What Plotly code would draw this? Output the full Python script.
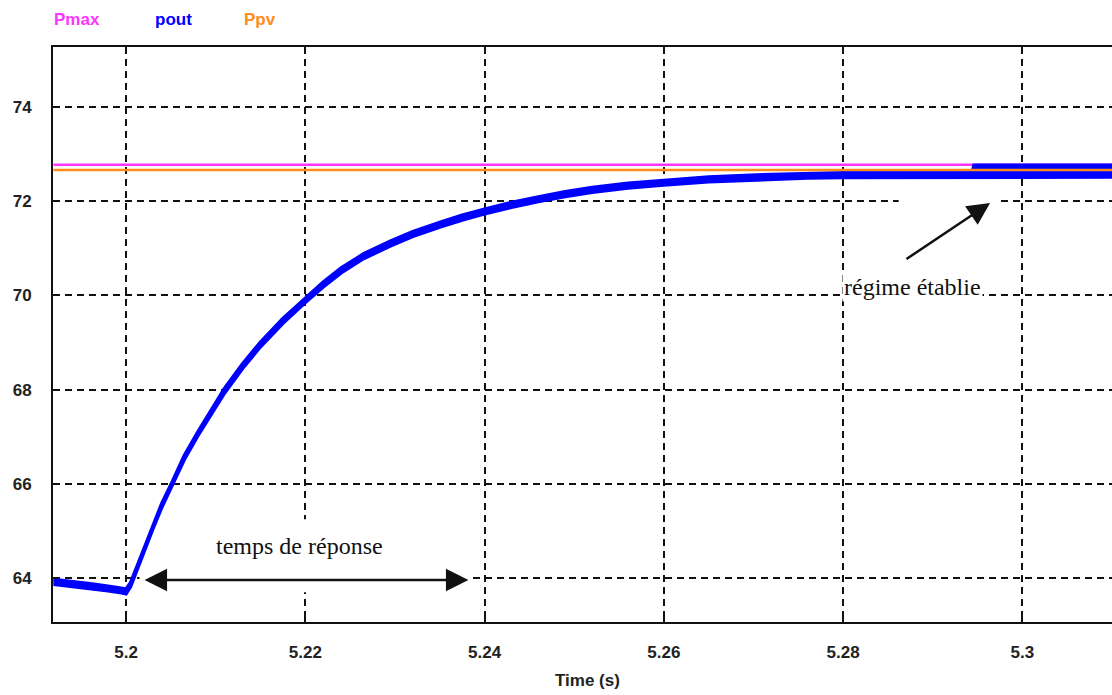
import plotly.graph_objects as go

# Time samples (s) and the pout band (lower / upper edge of the rippled trace, W)
pout_t = [5.1919, 5.1940, 5.1960, 5.1980, 5.1995, 5.2000, 5.2005, 5.2010, 5.2015,
          5.2020, 5.2025, 5.2030, 5.2040, 5.2052, 5.2065, 5.2080, 5.2095, 5.2110,
          5.2130, 5.2150, 5.2175, 5.2200, 5.2220, 5.2240, 5.2265, 5.2295, 5.2320,
          5.2350, 5.2375, 5.2400, 5.2430, 5.2460, 5.2490, 5.2520, 5.2560, 5.2600,
          5.2650, 5.2710, 5.2760, 5.2800, 5.2944, 5.2946, 5.3000, 5.3101]
pout_lo = [63.87, 63.83, 63.78, 63.73, 63.69, 63.67, 63.82, 64.06, 64.32,
           64.56, 64.81, 65.05, 65.51, 65.98, 66.52, 67.02, 67.49, 67.93,
           68.45, 68.91, 69.41, 69.85, 70.18, 70.48, 70.78, 71.05, 71.25,
           71.45, 71.60, 71.73, 71.87, 71.99, 72.10, 72.19, 72.28, 72.34,
           72.41, 72.46, 72.49, 72.50, 72.51, 72.51, 72.51, 72.51]
pout_hi = [63.97, 63.93, 63.88, 63.83, 63.79, 63.77, 63.90, 64.14, 64.40,
           64.64, 64.89, 65.13, 65.59, 66.06, 66.60, 67.10, 67.57, 68.03,
           68.55, 69.01, 69.51, 69.95, 70.28, 70.58, 70.88, 71.15, 71.35,
           71.55, 71.70, 71.83, 71.97, 72.09, 72.20, 72.29, 72.38, 72.44,
           72.51, 72.56, 72.59, 72.60, 72.61, 72.76, 72.76, 72.76]

# Reference power levels (W)
t_span = [5.1919, 5.3101]
pmax_vals = [72.77, 72.77]
ppv_vals = [72.66, 72.66]

x_ticks = [5.20, 5.22, 5.24, 5.26, 5.28, 5.30]
y_ticks = [64, 66, 68, 70, 72, 74]

MAGENTA = "#FF33FF"
BLUE = "#0000FF"
ORANGE = "#FF8C1A"
SANS = "Liberation Sans Narrow, Arial Narrow, Liberation Sans, sans-serif"
TICK_FONT = dict(family=SANS, size=17, color="#222222", weight="bold")
SERIF = "Liberation Serif, Times New Roman, serif"

fig = go.Figure()

fig.add_trace(go.Scatter(x=t_span, y=pmax_vals, mode="lines",
                         line=dict(color=MAGENTA, width=2.5), name="Pmax"))

band_x = pout_t + pout_t[::-1]
band_y = pout_hi + pout_lo[::-1]
fig.add_trace(go.Scatter(x=band_x, y=band_y, mode="lines", fill="toself",
                         fillcolor=BLUE, line=dict(color=BLUE, width=3.5),
                         name="pout"))

fig.add_trace(go.Scatter(x=t_span, y=ppv_vals, mode="lines",
                         line=dict(color=ORANGE, width=2.5), name="Ppv"))

# Text boxes that mask the grid behind the annotations
fig.add_shape(type="rect", layer="between", x0=5.2015, x1=5.2385, y0=63.7, y1=65.25,
              fillcolor="white", line=dict(width=0))
fig.add_shape(type="rect", layer="between", x0=5.2862, x1=5.2975, y0=71.85, y1=72.15,
              fillcolor="white", line=dict(width=0))

annotations = [
    dict(x=5.2194, y=64.68, text="temps de réponse", showarrow=False,
         font=dict(family=SERIF, size=24, color="#111111")),
    dict(x=5.2382, y=63.96, ax=5.2019, ay=63.96, axref="x", ayref="y",
         text="", showarrow=True, arrowside="end+start", arrowhead=2,
         startarrowhead=2, arrowsize=1.8, startarrowsize=1.8, arrowwidth=2.5,
         arrowcolor="#111111", standoff=0, startstandoff=0),
    dict(x=5.2877, y=70.18, text="régime établie", showarrow=False,
         bgcolor="white", font=dict(family=SERIF, size=24, color="#111111")),
    dict(x=5.2964, y=71.96, ax=5.2869, ay=70.75, axref="x", ayref="y",
         text="", showarrow=True, arrowhead=2, arrowsize=1.8, arrowwidth=2.5,
         arrowcolor="#111111", standoff=0),
    # series labels above the frame
    dict(xref="paper", yref="paper", x=-0.001, y=1.047, xanchor="left", yanchor="middle",
         text="Pmax", showarrow=False,
         font=dict(family=SANS, size=17, color=MAGENTA, weight="bold")),
    dict(xref="paper", yref="paper", x=0.0944, y=1.047, xanchor="left", yanchor="middle",
         text="pout", showarrow=False,
         font=dict(family=SANS, size=17, color=BLUE, weight="bold")),
    dict(xref="paper", yref="paper", x=0.1785, y=1.047, xanchor="left", yanchor="middle",
         text="Ppv", showarrow=False,
         font=dict(family=SANS, size=17, color=ORANGE, weight="bold")),
    # axis title
    dict(xref="paper", yref="paper", x=0.505, y=-0.1009, xanchor="center", yanchor="middle",
         text="Time (s)", showarrow=False,
         font=dict(family=SANS, size=17, color="#222222", weight="bold")),
]

fig.update_layout(
    width=1112, height=695,
    margin=dict(l=53, r=0, t=47, b=73),
    paper_bgcolor="white", plot_bgcolor="white",
    showlegend=False,
    annotations=annotations,
)

fig.update_xaxes(
    range=[5.19185, 5.3100], tickvals=x_ticks, ticktext=[f"{v:g}" for v in x_ticks],
    showgrid=True, gridcolor="#111111", gridwidth=2, griddash="7px,5px",
    showline=True, linecolor="#111111", linewidth=2, mirror="ticks",
    ticks="inside", ticklen=5, tickwidth=2, tickcolor="#111111",
    tickfont=TICK_FONT, ticklabelstandoff=14, zeroline=False,
)
fig.update_yaxes(
    range=[63.07, 75.27], tickvals=y_ticks,
    showgrid=True, gridcolor="#111111", gridwidth=2, griddash="7px,5px",
    showline=True, linecolor="#111111", linewidth=2, mirror=False,
    ticks="inside", ticklen=5, tickwidth=2, tickcolor="#111111",
    tickfont=TICK_FONT, ticklabelstandoff=16, zeroline=False,
)

fig.write_html("out.html")
